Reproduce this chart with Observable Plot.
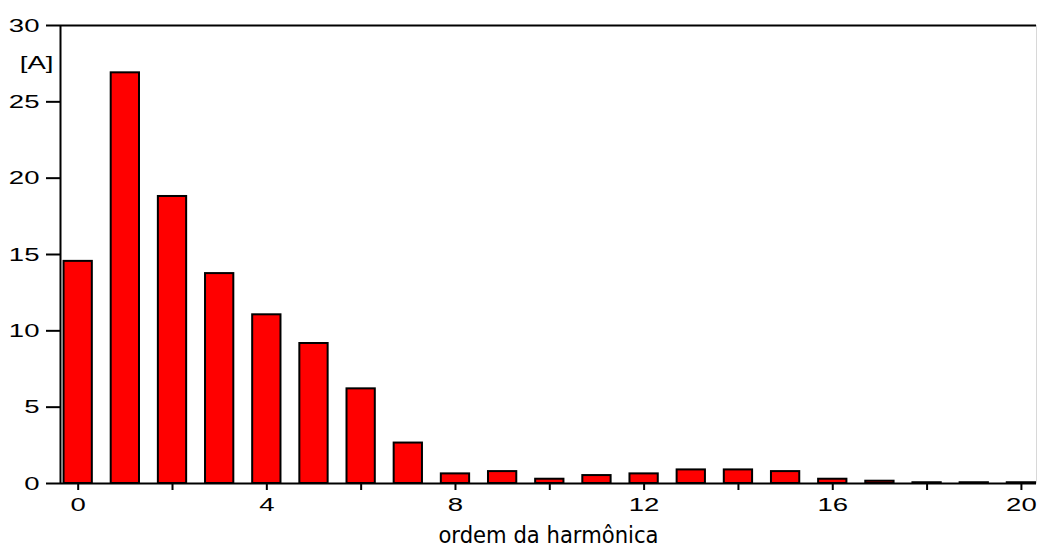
<!DOCTYPE html>
<html>
<head>
<meta charset="utf-8">
<script src="https://cdn.jsdelivr.net/npm/d3@7"></script>
<script src="https://cdn.jsdelivr.net/npm/@observablehq/plot@0.6"></script>
<style>
  html, body { margin: 0; padding: 0; background: #ffffff; }
  #chart { width: 1038px; height: 548px; }
</style>
</head>
<body>
<div id="chart"></div>
<script>
// ---- data ----
const harmonics = [0, 1, 2, 3, 4, 5, 6, 7, 8, 9, 10, 11, 12, 13, 14, 15, 16, 17, 18, 19, 20];
const amplitudes = [14.55, 26.9, 18.8, 13.75, 11.05, 9.17, 6.2, 2.65, 0.63, 0.78, 0.28, 0.52, 0.63, 0.89, 0.89, 0.78, 0.28, 0.15, 0.05, 0.05, 0.05];
const xTicks = [0, 2, 4, 6, 8, 10, 12, 14, 16, 18, 20];
const xLabelEvery = 4;
const yTicks = [0, 5, 10, 15, 20, 25, 30];
const xDomain = [-0.375, 20.32];
const yDomain = [0, 30];
const unitLabel = "[A]";
const xTitle = "ordem da harmônica";

const data = harmonics.map((h, i) => ({h, a: amplitudes[i]}));
const halfWidth = 0.3;

const chart = Plot.plot({
  width: 1038,
  height: 548,
  marginLeft: 60,
  marginRight: 2,
  marginTop: 25,
  marginBottom: 65,
  style: {fontFamily: "'Liberation Sans', Arial, sans-serif", fontSize: "19px", color: "#000", background: "#fff"},
  x: {domain: xDomain},
  y: {domain: yDomain},
  marks: [
    Plot.rectY(data, {x1: d => d.h - halfWidth, x2: d => d.h + halfWidth, y1: 0, y2: "a", fill: "#ff0000", stroke: "#000", strokeWidth: 2}),
    Plot.ruleX([xDomain[1]], {stroke: "#d8d8d8", strokeWidth: 1}),
    Plot.ruleY([yDomain[1]], {stroke: "#000", strokeWidth: 2}),
    Plot.ruleX([xDomain[0]], {stroke: "#000", strokeWidth: 2}),
    Plot.ruleY([0], {stroke: "#000", strokeWidth: 2}),
    Plot.axisY({ticks: yTicks, tickSize: 14, tickPadding: 7, strokeWidth: 2, label: null}),
    Plot.axisX({ticks: xTicks, tickSize: 7, tickPadding: 7, strokeWidth: 2, label: null,
      tickFormat: d => d % xLabelEvery === 0 ? String(d) : ""}),
    Plot.text([unitLabel], {frameAnchor: "top-left", dx: -7, dy: 30, textAnchor: "end", fontSize: 19}),
    Plot.text([xTitle], {frameAnchor: "bottom", dy: 59, fontFamily: "'DejaVu Sans', sans-serif", fontSize: 23})
  ]
});

document.getElementById("chart").appendChild(chart);

// horizontal stretch of glyphs, as in the reference typography
function stretch(sel, sx) {
  sel.each(function () {
    const t = d3.select(this);
    const xa = t.attr("x");
    if (xa != null && !isNaN(+xa)) t.attr("x", +xa / sx);
    const tr = t.attr("transform") || "";
    t.attr("transform", `${tr} scale(${sx},1)`);
  });
}
const svg = d3.select(chart);
stretch(svg.selectAll("text").filter(function () { return this.textContent !== xTitle; }), 1.45);
stretch(svg.selectAll("text").filter(function () { return this.textContent === xTitle; }), 0.92);
</script>
</body>
</html>
